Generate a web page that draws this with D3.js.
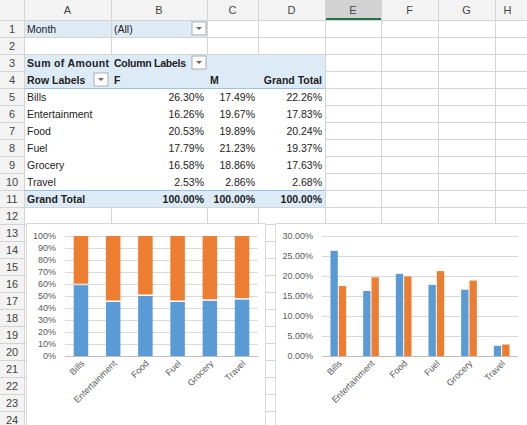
<!DOCTYPE html>
<html><head><meta charset="utf-8">
<script src="https://cdn.jsdelivr.net/npm/d3@7"></script>
<style>body{margin:0;background:#fff;font-family:"Liberation Sans",Arial,sans-serif}</style>
</head><body><div id="sheet"></div>
<script>
'use strict';
// ---- data ----
const categories = ["Bills", "Entertainment", "Food", "Fuel", "Grocery", "Travel"];
const seriesF = [26.30, 16.26, 20.53, 17.79, 16.58, 2.53];
const seriesM = [17.49, 19.67, 19.89, 21.23, 18.86, 2.86];
const grandTotal = [22.26, 17.83, 20.24, 19.37, 17.63, 2.68];
// F share of each category total
const shareF = [59, 45, 50, 45, 46, 47];
const pctTicks = [0, 10, 20, 30, 40, 50, 60, 70, 80, 90, 100];
const clusterTicks = [0, 5, 10, 15, 20, 25, 30];
const colLetters = ["A", "B", "C", "D", "E", "F", "G", "H"];

const W = 527, H = 425;
const colX = [24, 111, 207, 258, 325, 381, 438, 495, 560];
const headH = 20, rowH = 17;
const rowTop = r => headH + (r - 1) * rowH;
const blue = "#DDEBF7", grid = "#D4D4D4", txt = "#222";

const svg = d3.select("#sheet").append("svg").attr("width", W).attr("height", H)
  .style("font-size", "10.5px");

// column headers
svg.append("rect").attr("width", W).attr("height", headH).attr("fill", "#F3F3F3");
svg.append("rect").attr("x", colX[4]).attr("width", colX[5] - colX[4]).attr("height", headH).attr("fill", "#D2D2D2");
svg.append("rect").attr("x", colX[4]).attr("y", headH - 2).attr("width", colX[5] - colX[4]).attr("height", 2).attr("fill", "#217346");
colLetters.forEach((c, i) => {
  svg.append("text").attr("x", (colX[i] + Math.min(colX[i + 1], W + 60)) / 2 - (i === 7 ? 20 : 0)).attr("y", 14)
    .attr("text-anchor", "middle").attr("fill", "#444").attr("font-size", "11px").text(c);
});
// row headers
svg.append("rect").attr("y", headH).attr("width", colX[0]).attr("height", H).attr("fill", "#F3F3F3");
// gridlines
for (let r = 1; r <= 25; r++) {
  svg.append("line").attr("x1", 0).attr("x2", W).attr("y1", rowTop(r) + .5).attr("y2", rowTop(r) + .5).attr("stroke", grid);
  if (r <= 24) svg.append("text").attr("x", 12).attr("y", rowTop(r) + 13).attr("text-anchor", "middle")
    .attr("fill", "#444").attr("font-size", "11px").text(r);
}
colX.forEach(x => svg.append("line").attr("x1", x + .5).attr("x2", x + .5).attr("y1", 0).attr("y2", H).attr("stroke", grid));
// pivot fills (cover gridlines inside the pivot body)
const fill = (r0, r1, c0, c1, col) => svg.append("rect").attr("x", colX[c0] + 1).attr("y", rowTop(r0) + 1)
  .attr("width", colX[c1] - colX[c0] - 1).attr("height", rowH * (r1 - r0 + 1) - 1).attr("fill", col);
fill(1, 1, 0, 1, blue); fill(1, 1, 1, 2, blue);
fill(3, 4, 0, 4, blue); fill(5, 10, 0, 4, "#fff"); fill(11, 11, 0, 4, blue);
svg.append("line").attr("x1", colX[0]).attr("x2", colX[4]).attr("y1", rowTop(5) + .5).attr("y2", rowTop(5) + .5).attr("stroke", "#9BC2E6");
svg.append("line").attr("x1", colX[0]).attr("x2", colX[4]).attr("y1", rowTop(11) + .5).attr("y2", rowTop(11) + .5).attr("stroke", "#9BC2E6");

// dropdown buttons
const dd = (x, r) => {
  const y = rowTop(r) + 2;
  svg.append("rect").attr("x", x).attr("y", y).attr("width", 14).attr("height", 13).attr("fill", "#fff").attr("stroke", "#ABABAB");
  svg.append("path").attr("d", `M${x + 4},${y + 5}h6l-3,3z`).attr("fill", "#666");
};
dd(192, 1); dd(192, 3); dd(94, 4);

const cell = (r, x, s, anchor = "start", bold = false) =>
  svg.append("text").attr("x", x).attr("y", rowTop(r) + 13).attr("text-anchor", anchor)
    .attr("font-weight", bold ? "bold" : null).attr("fill", txt).text(s);
cell(1, 27, "Month"); cell(1, 114, "(All)");
cell(3, 27, "Sum of Amount", "start", true).attr("textLength", 82);
cell(3, 114, "Column Labels", "start", true).attr("textLength", 72);
cell(4, 27, "Row Labels", "start", true); cell(4, 114, "F", "start", true);
cell(4, 210, "M", "start", true); cell(4, 322, "Grand Total", "end", true);
const pf = v => v.toFixed(2) + "%";
categories.forEach((c, i) => {
  cell(5 + i, 27, c);
  cell(5 + i, 204, pf(seriesF[i]), "end");
  cell(5 + i, 255, pf(seriesM[i]), "end");
  cell(5 + i, 322, pf(grandTotal[i]), "end");
});
cell(11, 27, "Grand Total", "start", true);
cell(11, 204, "100.00%", "end", true); cell(11, 255, "100.00%", "end", true); cell(11, 322, "100.00%", "end", true);

// ---- charts ----
const cF = "#5B9BD5", cM = "#ED7D31", axisTxt = "#595959";
function frame(x, y, w, h) {
  svg.append("rect").attr("x", x + .5).attr("y", y + .5).attr("width", w).attr("height", h)
    .attr("fill", "#fff").attr("stroke", "#D9D9D9");
}
function xLabels(g, x, y0) {
  categories.forEach(c => {
    g.append("text").attr("transform", `translate(${x(c) + x.bandwidth() / 2 + 4},${y0 + 8}) rotate(-45)`)
      .attr("text-anchor", "end").attr("fill", axisTxt).attr("font-size", "9px").text(c);
  });
}
// stacked 100%
frame(26, 223, 239, 202);
{
  const g = svg.append("g");
  const x = d3.scaleBand().domain(categories).range([65, 258]).paddingInner(0.55).paddingOuter(0.27);
  const y = d3.scaleLinear().domain([0, 100]).range([356, 236]);
  pctTicks.forEach(t => {
    g.append("line").attr("x1", 65).attr("x2", 258).attr("y1", y(t) + .5).attr("y2", y(t) + .5).attr("stroke", "#D9D9D9");
    g.append("text").attr("x", 56).attr("y", y(t) + 3).attr("text-anchor", "end").attr("fill", axisTxt).attr("font-size", "9px").text(t + "%");
  });
  categories.forEach((c, i) => {
    g.append("rect").attr("x", x(c)).attr("width", x.bandwidth()).attr("y", y(shareF[i])).attr("height", y(0) - y(shareF[i])).attr("fill", cF);
    g.append("rect").attr("x", x(c)).attr("width", x.bandwidth()).attr("y", y(100)).attr("height", y(shareF[i]) - y(100) - 1.5).attr("fill", cM);
  });
  g.append("line").attr("x1", 65).attr("x2", 258).attr("y1", y(0) + .5).attr("y2", y(0) + .5).attr("stroke", "#BFBFBF");
  xLabels(g, x, 356);
}
// clustered
frame(275, 223, 260, 202);
{
  const g = svg.append("g");
  const x = d3.scaleBand().domain(categories).range([322, 518]).paddingInner(0.52).paddingOuter(0.26);
  const y = d3.scaleLinear().domain([0, 30]).range([356, 236]);
  clusterTicks.forEach(t => {
    g.append("line").attr("x1", 322).attr("x2", 518).attr("y1", y(t) + .5).attr("y2", y(t) + .5).attr("stroke", "#D9D9D9");
    g.append("text").attr("x", 313).attr("y", y(t) + 3).attr("text-anchor", "end").attr("fill", axisTxt).attr("font-size", "9px").text(t.toFixed(2) + "%");
  });
  const bw = x.bandwidth() / 2;
  categories.forEach((c, i) => {
    g.append("rect").attr("x", x(c)).attr("width", bw - 0.5).attr("y", y(seriesF[i])).attr("height", y(0) - y(seriesF[i])).attr("fill", cF);
    g.append("rect").attr("x", x(c) + bw + 0.5).attr("width", bw - 0.5).attr("y", y(seriesM[i])).attr("height", y(0) - y(seriesM[i])).attr("fill", cM);
  });
  g.append("line").attr("x1", 322).attr("x2", 518).attr("y1", y(0) + .5).attr("y2", y(0) + .5).attr("stroke", "#BFBFBF");
  xLabels(g, x, 356);
}
</script></body></html>
